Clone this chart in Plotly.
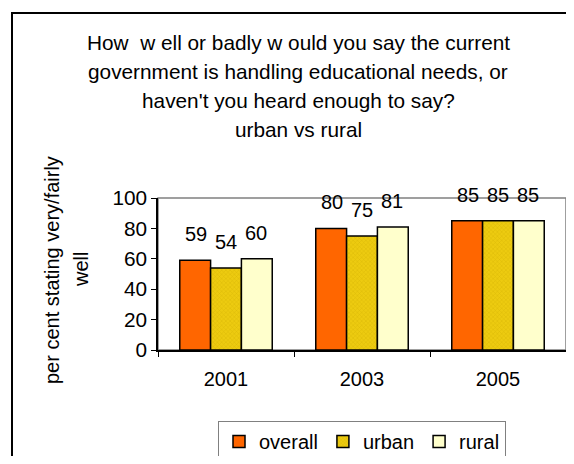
import plotly.graph_objects as go

years = ["2001", "2003", "2005"]
overall = [59, 80, 85]
urban = [54, 75, 85]
rural = [60, 81, 85]
series_names = ["overall", "urban", "rural"]
title_lines = [
    "How  w ell or badly w ould you say the current",
    "government is handling educational needs, or",
    "haven't you heard enough to say?",
    "urban vs rural",
]
ytitle_lines = ["per cent stating very/fairly", "well"]
yticks = [0, 20, 40, 60, 80, 100]

FONT = "Arial, 'Liberation Sans', sans-serif"
FS = 20
FS_T = 20.8

# page offset from default body margin
OFF = 8
# plot area in reference page pixels
RL, RR, RT, RB = 158, 566, 198, 350
W, H = 574 - 2 * OFF, 464 - 2 * OFF
L, R, T, B = RL - OFF, RR - OFF, RT - OFF, RB - OFF
pw, ph = R - L, B - T

def px(x):  # reference page x -> paper
    return (x - OFF - L) / pw

def py(y):  # reference page y -> paper
    return (B - (y - OFF)) / ph

fig = go.Figure()
line = dict(color="black", width=1.5)
fig.add_trace(go.Bar(name=series_names[0], x=years, y=overall,
                     marker=dict(color="#FF6600", line=line)))
fig.add_trace(go.Bar(name=series_names[1], x=years, y=urban,
                     marker=dict(color="#E6C200", line=line,
                                 pattern=dict(shape="x", fgcolor="#C9A800",
                                              bgcolor="#EDCB10", size=3, solidity=0.3))))
fig.add_trace(go.Bar(name=series_names[2], x=years, y=rural,
                     marker=dict(color="#FFFFCC", line=line)))

annotations = []
shifts = [-30, 0, 30]
for s, vals in enumerate([overall, urban, rural]):
    for i, v in enumerate(vals):
        annotations.append(dict(x=i, y=v, xref="x", yref="y", text=str(v),
                                showarrow=False, xshift=shifts[s], yshift=26,
                                font=dict(size=FS, color="black", family=FONT)))

title_y = [42, 71, 100, 129]
for t, yy in zip(title_lines, title_y):
    annotations.append(dict(x=px(298), y=py(yy), xref="paper", yref="paper",
                            text=t, showarrow=False, xanchor="center", yanchor="middle",
                            font=dict(size=FS_T, color="black", family=FONT)))

ytitle_x = [52, 81]
for t, xx in zip(ytitle_lines, ytitle_x):
    annotations.append(dict(x=px(xx), y=py(270), xref="paper", yref="paper",
                            text=t, showarrow=False, textangle=-90,
                            xanchor="center", yanchor="middle",
                            font=dict(size=FS, color="black", family=FONT)))

shapes = [
    # outer chart border
    dict(type="rect", xref="paper", yref="paper",
         x0=px(12), y0=py(490), x1=px(600), y1=py(13),
         line=dict(color="black", width=2), layer="below"),
    # plot area frame (grey top/right)
    dict(type="rect", xref="paper", yref="paper", x0=0, y0=0, x1=1, y1=1,
         line=dict(color="#808080", width=1.5), layer="below"),
]

fig.update_layout(
    width=W, height=H,
    margin=dict(l=L, r=W - R, t=T, b=H - B, pad=0, autoexpand=False),
    paper_bgcolor="white", plot_bgcolor="white",
    barmode="group", bargap=0.32, bargroupgap=0,
    showlegend=True,
    legend=dict(orientation="h", x=px(362), xanchor="center", y=py(421), yanchor="top",
                bordercolor="#808080", borderwidth=1, bgcolor="white",
                font=dict(size=FS, color="black", family=FONT),
                itemwidth=30, tracegroupgap=0),
    font=dict(family=FONT, size=FS, color="black"),
    annotations=annotations,
    shapes=shapes,
)
fig.update_xaxes(type="category", range=[-0.5, len(years) - 0.5], automargin=False,
                 showline=True, linecolor="black", linewidth=1.5,
                 ticks="outside", tickson="boundaries", ticklen=5, tickcolor="black",
                 tickfont=dict(size=FS, color="black", family=FONT),
                 ticklabelstandoff=10, showgrid=False, fixedrange=True)
fig.update_yaxes(range=[0, 100], tickvals=yticks, showline=True, linecolor="black",
                 automargin=False,
                 linewidth=1.5, ticks="outside", ticklen=5, tickcolor="black",
                 tickfont=dict(size=FS_T, color="black", family=FONT),
                 showgrid=False, zeroline=False, fixedrange=True)

fig.write_html("out.html")
